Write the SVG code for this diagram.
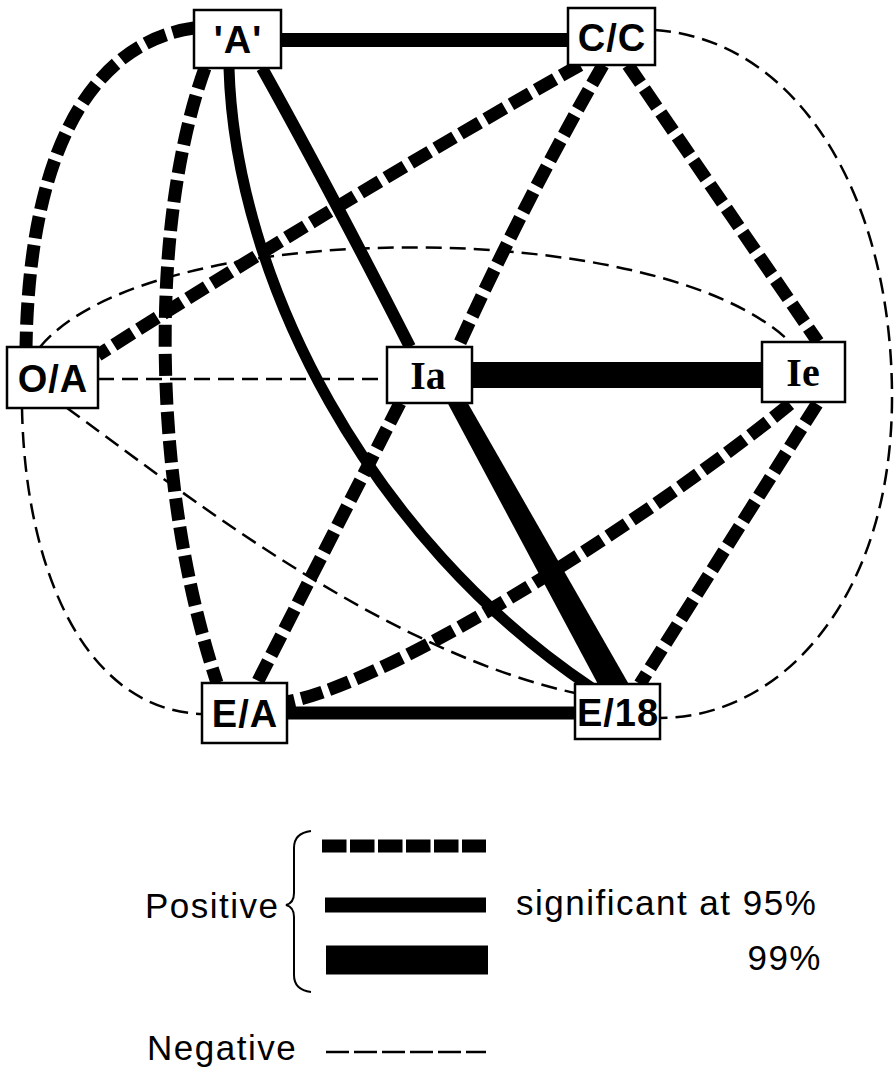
<svg xmlns="http://www.w3.org/2000/svg" width="894" height="1070" viewBox="0 0 894 1070">
<style>
.pd{fill:none;stroke:#000;stroke-width:13;stroke-dasharray:22 7}
.ps{fill:none;stroke:#000;stroke-width:13}
.pb{fill:none;stroke:#000;stroke-width:26}
.ng{fill:none;stroke:#000;stroke-width:2.5;stroke-dasharray:16 8}
.box{fill:#fff;stroke:#000;stroke-width:2.5}
.lb{font-family:"Liberation Sans",Arial,sans-serif;font-weight:bold;font-size:38px;text-anchor:middle;letter-spacing:1px}
.lbs{font-family:"Liberation Serif","Times New Roman",serif;font-weight:bold;font-size:40px;text-anchor:middle}
.lg{font-family:"Liberation Sans",Arial,sans-serif;font-size:35px;letter-spacing:1.5px}
</style>
<g id="connectors">
<line class="ps" x1="281" y1="40" x2="568" y2="40" style="stroke-width:14"/>
<path class="pd" d="M194,28 C110,40 30,120 26,347"/>
<path class="pd" d="M205,68 C150,220 150,480 217,683"/>
<path class="ps" d="M229,68 C235,280 370,540 592,688" style="stroke-width:11"/>
<path class="ps" d="M262,68 Q330,190 410,347" style="stroke-width:12"/>
<path class="pd" d="M580,65 Q350,195 98,355"/>
<path class="pd" d="M603,65 Q525,200 458,347"/>
<path class="pd" d="M628,65 L818,342"/>
<path class="ng" d="M655,30 C800,40 893,200 892,400 C891,600 780,718 660,718"/>
<path class="ng" d="M40,347 C150,215 660,215 790,342"/>
<line class="ng" x1="98" y1="379" x2="387" y2="379"/>
<path class="ng" d="M22,408 C25,570 85,710 202,714"/>
<path class="ng" d="M67,408 C180,490 380,650 575,693"/>
<line class="pb" x1="472" y1="375" x2="762" y2="375"/>
<path d="M446,400 L466,400 L631,688 L600,688 Z" fill="#000"/>
<path class="pd" d="M400,403 L257,683"/>
<path class="pd" d="M790,404 C660,510 400,680 287,702"/>
<path class="pd" d="M817,404 L640,684"/>
<line class="ps" x1="287" y1="713" x2="575" y2="713"/>
</g>
<g id="node-A">
<rect class="box" x="194" y="10" width="87" height="58"/>
<text class="lb" x="238" y="53">'A'</text>
</g>
<g id="node-CC">
<rect class="box" x="568" y="8" width="87" height="57"/>
<text class="lb" x="612" y="51">C/C</text>
</g>
<g id="node-OA">
<rect class="box" x="7" y="347" width="91" height="61"/>
<text class="lb" x="53" y="392">O/A</text>
</g>
<g id="node-Ia">
<rect class="box" x="387" y="347" width="85" height="56"/>
<text class="lbs" x="428" y="389">Ia</text>
</g>
<g id="node-Ie">
<rect class="box" x="762" y="342" width="83" height="60"/>
<text class="lbs" x="803" y="386">Ie</text>
</g>
<g id="node-EA">
<rect class="box" x="202" y="683" width="85" height="60"/>
<text class="lb" x="245" y="727">E/A</text>
</g>
<g id="node-E18">
<rect class="box" x="575" y="684" width="85" height="55"/>
<text class="lb" x="618" y="726">E/18</text>
</g>
<g id="legend">
<path d="M311,831 Q294,833 294,848 L294,893 Q294,903 286,905 Q294,907 294,917 L294,975 Q294,990 311,992" fill="none" stroke="#000" stroke-width="2"/>
<line x1="322" y1="846" x2="486" y2="846" stroke="#000" stroke-width="13" stroke-dasharray="24.5 3.5"/>
<line x1="325" y1="905" x2="486" y2="905" stroke="#000" stroke-width="15"/>
<line x1="326" y1="960" x2="488" y2="960" stroke="#000" stroke-width="29"/>
<line x1="326" y1="1052" x2="486" y2="1052" stroke="#000" stroke-width="2.5" stroke-dasharray="23 5"/>
<text class="lg" x="145" y="918">Positive</text>
<text class="lg" x="516" y="915">significant at 95%</text>
<text class="lg" x="822" y="970" text-anchor="end">99%</text>
<text class="lg" x="147" y="1060">Negative</text>
</g>
</svg>
